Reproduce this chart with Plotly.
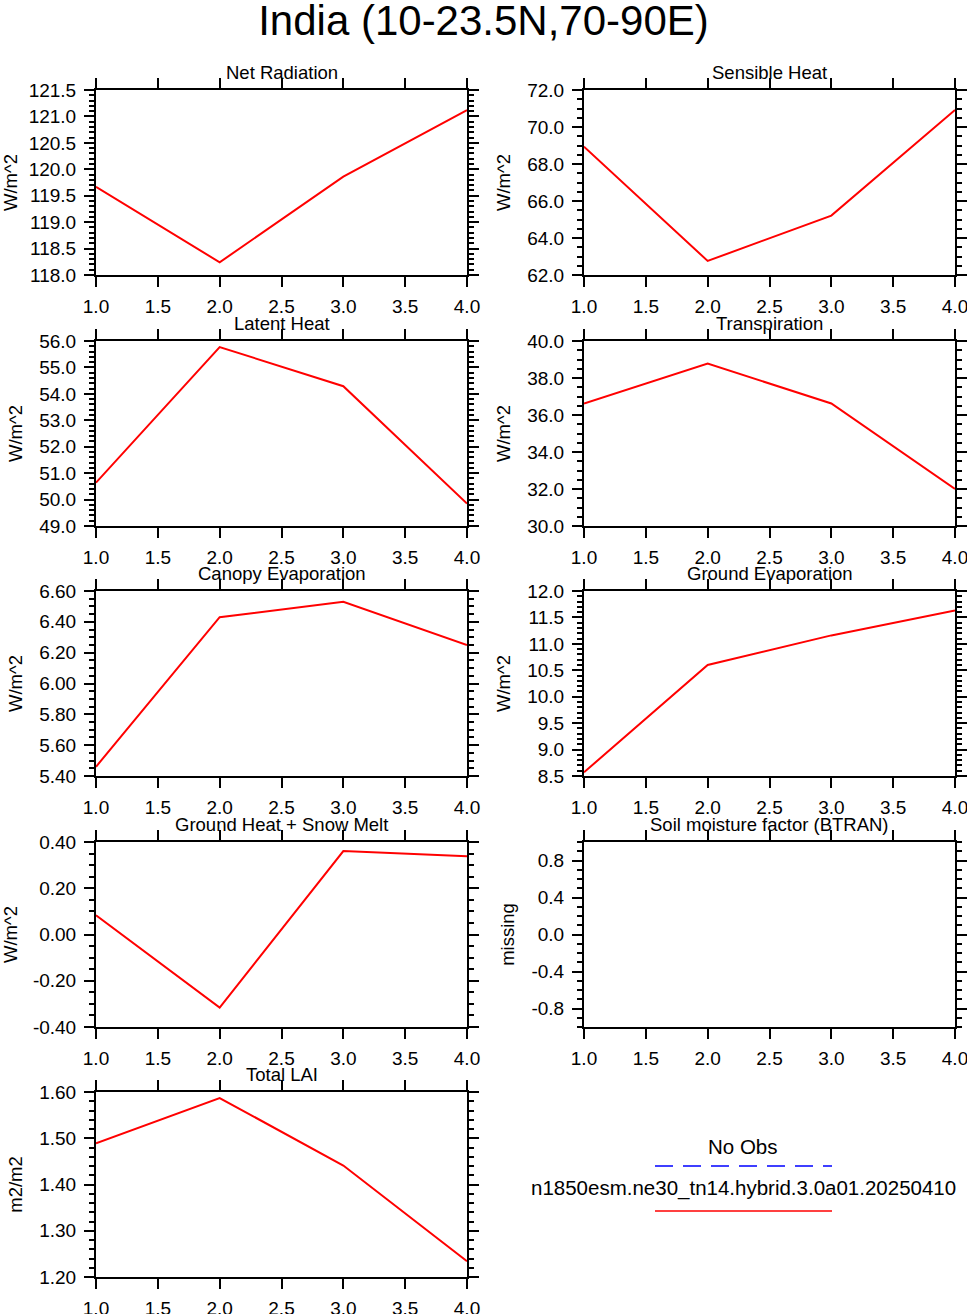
import numpy as np
import plotly.graph_objects as go

# x positions along the run (1..4)
steps = [1, 2, 3, 4]

net_radiation = [119.67, 118.24, 119.86, 121.12]
sensible_heat = [68.94, 62.76, 65.21, 70.92]
latent_heat = [50.64, 55.77, 54.29, 49.85]
transpiration = [36.62, 38.78, 36.62, 32.00]
canopy_evap = [5.46, 6.43, 6.53, 6.25]
ground_evap = [8.57, 10.60, 11.16, 11.63]
ground_heat = [0.083, -0.316, 0.361, 0.338]
btran = [None, None, None, None]  # missing
total_lai = [1.489, 1.587, 1.441, 1.234]

panel_titles = ["Net Radiation", "Sensible Heat", "Latent Heat", "Transpiration",
                "Canopy Evaporation", "Ground Evaporation", "Ground Heat + Snow Melt",
                "Soil moisture factor (BTRAN)", "Total LAI"]
units = ["W/m^2", "W/m^2", "W/m^2", "W/m^2", "W/m^2", "W/m^2", "W/m^2", "missing", "m2/m2"]
series = [net_radiation, sensible_heat, latent_heat, transpiration, canopy_evap,
          ground_evap, ground_heat, btran, total_lai]

# (ymin, ymax, first major, major step, minor step, decimals)
y_scales = [
    (118.0, 121.5, 118.0, 0.5, 0.1, 1),
    (62.0, 72.0, 62.0, 2.0, 0.5, 1),
    (49.0, 56.0, 49.0, 1.0, 0.2, 1),
    (30.0, 40.0, 30.0, 2.0, 0.5, 1),
    (5.4, 6.6, 5.4, 0.2, 0.05, 2),
    (8.5, 12.0, 8.5, 0.5, 0.1, 1),
    (-0.4, 0.4, -0.4, 0.2, 0.05, 2),
    (-1.0, 1.0, -0.8, 0.4, 0.1, 1),
    (1.2, 1.6, 1.2, 0.1, 0.02, 2),
]

legend_labels = ["No Obs", "n1850esm.ne30_tn14.hybrid.3.0a01.20250410"]

W, H = 967, 1314
FONT = "Liberation Sans, Arial, Helvetica, sans-serif"
col_left = [96, 584]
panel_w = 371
row_top = [90, 341, 591, 842, 1092]
panel_h = 185

fig = go.Figure()
layout = {}
annotations = []

for i, (name, unit, vals, sc) in enumerate(zip(panel_titles, units, series, y_scales)):
    n = i + 1
    row, col = divmod(i, 2)
    x0 = col_left[col] / W
    x1 = (col_left[col] + panel_w) / W
    y1 = 1 - row_top[row] / H
    y0 = 1 - (row_top[row] + panel_h) / H
    ymin, ymax, first, step, minor, dec = sc

    fig.add_trace(go.Scatter(x=steps, y=vals, mode="lines",
                             line=dict(color="#ff0000", width=2),
                             xaxis=f"x{n}", yaxis=f"y{n}", showlegend=False))

    tickvals = np.arange(first, ymax + step / 2, step)
    ticktext = [f"{v:.{dec}f}" for v in tickvals]

    common = dict(showline=True, linecolor="black", linewidth=2, mirror="allticks",
                  ticks="outside", ticklen=10, tickwidth=2, tickcolor="black",
                  showgrid=False, zeroline=False, automargin=False,
                  ticklabeloverflow="allow",
                  tickfont=dict(family=FONT, size=19, color="black"))
    layout[f"xaxis{n}"] = dict(common, domain=[x0, x1], anchor=f"y{n}", range=[1, 4],
                               tickmode="linear", tick0=1, dtick=0.5, tickformat=".1f",
                               ticklabelstandoff=3)
    layout[f"yaxis{n}"] = dict(common, domain=[y0, y1], anchor=f"x{n}", range=[ymin, ymax],
                               tickmode="array", tickvals=tickvals, ticktext=ticktext,
                               ticklabelstandoff=4,
                               minor=dict(ticks="outside", ticklen=5, tickwidth=1.5,
                                          tickcolor="black", dtick=minor, tick0=first,
                                          showgrid=False),
                               title=dict(text=unit, standoff=12,
                                          font=dict(family=FONT, size=18.5, color="black")))
    annotations.append(dict(text=name, xref="paper", yref="paper", x=(x0 + x1) / 2, y=y1,
                            xanchor="center", yanchor="bottom", yshift=5, showarrow=False,
                            font=dict(family=FONT, size=18.5, color="black")))

# legend drawn in the empty bottom-right cell
leg_x0, leg_x1 = 655 / W, 832 / W
annotations.append(dict(text=legend_labels[0], xref="paper", yref="paper", x=743 / W,
                        y=1 - 1146 / H, xanchor="center", yanchor="middle", showarrow=False,
                        font=dict(family=FONT, size=20.5, color="black")))
annotations.append(dict(text=legend_labels[1], xref="paper", yref="paper", x=743 / W,
                        y=1 - 1188 / H, xanchor="center", yanchor="middle", showarrow=False,
                        font=dict(family=FONT, size=20.5, color="black")))
shapes = [
    dict(type="line", xref="paper", yref="paper", x0=leg_x0, x1=leg_x1,
         y0=1 - 1166 / H, y1=1 - 1166 / H, line=dict(color="#0000ff", width=1.3, dash="18px,10px")),
    dict(type="line", xref="paper", yref="paper", x0=leg_x0, x1=leg_x1,
         y0=1 - 1211 / H, y1=1 - 1211 / H, line=dict(color="#ff0000", width=1.3)),
]

fig.update_layout(
    width=W, height=H,
    margin=dict(l=0, r=0, t=0, b=0, autoexpand=False),
    paper_bgcolor="white", plot_bgcolor="white",
    title=dict(text="India (10-23.5N,70-90E)", x=0.5, xanchor="center",
               y=1 - 20 / H, yanchor="middle",
               font=dict(family=FONT, size=42, color="black")),
    annotations=annotations, shapes=shapes,
    **layout,
)

fig.write_html("out.html", config={"displayModeBar": False},
               post_script="document.body.style.margin='0';")
